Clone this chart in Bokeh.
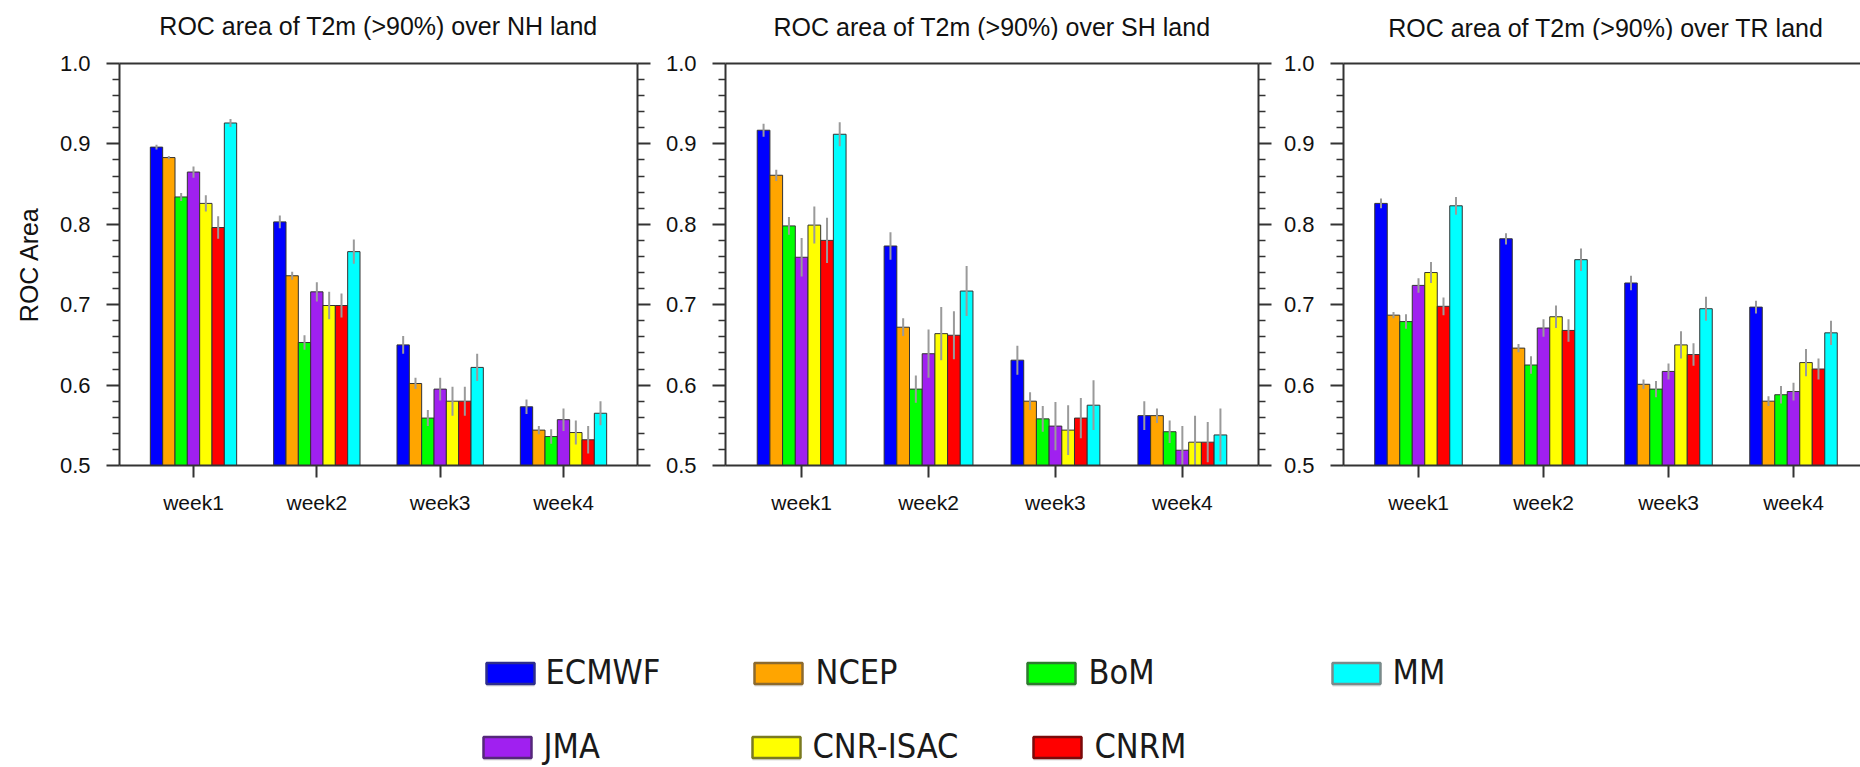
from bokeh.plotting import figure
from bokeh.models import Range1d, FixedTicker, LinearAxis, PrintfTickFormatter
from bokeh.layouts import row, column
from bokeh.embed import file_html
from bokeh.resources import INLINE
from bokeh.core.properties import value

# ---------------- data ----------------
models = ["ECMWF", "NCEP", "BoM", "JMA", "CNR-ISAC", "CNRM", "MM"]
weeks = ["week1", "week2", "week3", "week4"]
week_pos = [1, 2, 3, 4]
y_ticks = [0.5, 0.6, 0.7, 0.8, 0.9, 1.0]
y_minor = [0.52, 0.54, 0.56, 0.58, 0.62, 0.64, 0.66, 0.68, 0.72, 0.74, 0.76, 0.78,
           0.82, 0.84, 0.86, 0.88, 0.92, 0.94, 0.96, 0.98]
titles = ["ROC area of T2m (>90%) over NH land",
          "ROC area of T2m (>90%) over SH land",
          "ROC area of T2m (>90%) over TR land"]

# ROC area per model (rows, order of `models`) for week1..week4
nh_roc = [[0.896, 0.803, 0.650, 0.573],
          [0.883, 0.736, 0.602, 0.544],
          [0.834, 0.653, 0.559, 0.536],
          [0.865, 0.716, 0.595, 0.557],
          [0.826, 0.699, 0.580, 0.541],
          [0.796, 0.699, 0.580, 0.532],
          [0.926, 0.766, 0.622, 0.565]]
nh_err = [[0.003, 0.008, 0.011, 0.009],
          [0.002, 0.005, 0.007, 0.005],
          [0.005, 0.009, 0.010, 0.009],
          [0.007, 0.012, 0.014, 0.014],
          [0.010, 0.017, 0.018, 0.015],
          [0.014, 0.015, 0.018, 0.017],
          [0.005, 0.015, 0.017, 0.015]]

sh_roc = [[0.917, 0.773, 0.631, 0.562],
          [0.861, 0.672, 0.580, 0.562],
          [0.798, 0.595, 0.558, 0.542],
          [0.759, 0.639, 0.549, 0.519],
          [0.799, 0.664, 0.544, 0.529],
          [0.780, 0.662, 0.559, 0.529],
          [0.912, 0.717, 0.575, 0.538]]
sh_err = [[0.008, 0.017, 0.018, 0.018],
          [0.007, 0.011, 0.011, 0.009],
          [0.011, 0.017, 0.016, 0.014],
          [0.024, 0.030, 0.030, 0.030],
          [0.023, 0.033, 0.031, 0.033],
          [0.028, 0.030, 0.025, 0.025],
          [0.015, 0.031, 0.031, 0.033]]

tr_roc = [[0.826, 0.782, 0.727, 0.697],
          [0.687, 0.646, 0.601, 0.580],
          [0.679, 0.625, 0.595, 0.588],
          [0.724, 0.671, 0.617, 0.592],
          [0.740, 0.685, 0.650, 0.628],
          [0.698, 0.668, 0.638, 0.620],
          [0.823, 0.756, 0.695, 0.665]]
tr_err = [[0.006, 0.007, 0.009, 0.008],
          [0.004, 0.005, 0.006, 0.006],
          [0.009, 0.011, 0.010, 0.011],
          [0.009, 0.011, 0.010, 0.011],
          [0.013, 0.014, 0.017, 0.017],
          [0.011, 0.014, 0.014, 0.013],
          [0.011, 0.014, 0.015, 0.015]]

# ---------------- styles / layout ----------------
colors = ["#0000FF", "#FFA500", "#00FF00", "#A020F0", "#FFFF00", "#FF0000", "#00FFFF"]
edge_colors = ["#2E2E8C", "#8C6A2E", "#2E7A2E", "#55287A", "#7A7A20", "#7A0A0A", "#7A8A8A"]
FONT = "Liberation Sans"
LEG_FONT = "DejaVu Sans Condensed, DejaVu Sans"
AX_COLOR = "#333333"
BAR_W = 0.1
X0 = 0.4
TITLE_H = 40
PANEL_H = 490
LEG_H = 767 - TITLE_H - PANEL_H
# (canvas width, border left, border right, border top, border bottom, x_end, title y)
panel_geo = [(657, 119, 20, 19, 65, 4.6, 25),
             (619, 68, 18, 21, 58, 4.6, 26),
             (584, 67, 0, 23, 56, 4.536, 27)]


def style_axis(ax):
    ax.axis_line_color = AX_COLOR
    ax.axis_line_width = 2
    ax.major_tick_line_color = AX_COLOR
    ax.major_tick_line_width = 2
    ax.minor_tick_line_color = AX_COLOR
    ax.minor_tick_line_width = 1.5
    ax.major_tick_in = 0
    ax.minor_tick_in = 0
    ax.major_label_text_font = FONT
    ax.major_label_text_color = "#111111"


def make_panel(roc, err, geo, ylabel, right_axis):
    width, bl, br, bt, bb, x_end, _ = geo
    p = figure(width=width, height=PANEL_H, output_backend="svg", toolbar_location=None,
               x_range=Range1d(X0, x_end), y_range=Range1d(0.5, 1.0),
               min_border_left=bl, min_border_right=br, min_border_top=bt,
               min_border_bottom=bb)
    p.outline_line_color = None
    p.grid.visible = False
    p.background_fill_color = "white"
    p.border_fill_color = "white"

    for i, m in enumerate(models):
        xs = [w + (i - 3) * BAR_W for w in week_pos]
        p.vbar(x=xs, top=roc[i], bottom=0.5, width=BAR_W,
               fill_color=colors[i], line_color="#333333", line_width=1)
        p.segment(x0=xs, x1=xs,
                  y0=[v - e for v, e in zip(roc[i], err[i])],
                  y1=[v + e for v, e in zip(roc[i], err[i])],
                  line_color="#9A9A9A", line_width=2)

    # left axis
    ya = p.yaxis[0]
    ya.ticker = FixedTicker(ticks=y_ticks, minor_ticks=y_minor)
    ya.formatter = PrintfTickFormatter(format="%.1f")
    style_axis(ya)
    ya.major_tick_out = 13
    ya.minor_tick_out = 7
    ya.major_label_standoff = 16
    ya.major_label_text_font_size = "22px"
    if ylabel:
        ya.axis_label = "ROC Area"
        ya.axis_label_text_font = FONT
        ya.axis_label_text_font_size = "25px"
        ya.axis_label_text_font_style = "normal"
        ya.axis_label_text_color = "#111111"
        ya.axis_label_standoff = 14

    # bottom axis
    xa = p.xaxis[0]
    xa.ticker = FixedTicker(ticks=week_pos, minor_ticks=[])
    xa.major_label_overrides = {w: lab for w, lab in zip(week_pos, weeks)}
    style_axis(xa)
    xa.major_tick_out = 12
    xa.minor_tick_out = 0
    xa.major_label_standoff = 13
    xa.major_label_text_font_size = "21px"

    # top border (no ticks)
    ta = LinearAxis(ticker=FixedTicker(ticks=[], minor_ticks=[]))
    style_axis(ta)
    ta.major_tick_out = 0
    ta.minor_tick_out = 0
    ta.major_label_standoff = 0
    p.add_layout(ta, "above")

    # right axis (mirrored ticks, no labels)
    if right_axis:
        ra = LinearAxis(ticker=FixedTicker(ticks=y_ticks, minor_ticks=y_minor))
        style_axis(ra)
        ra.major_tick_out = 13
        ra.minor_tick_out = 7
        ra.major_label_standoff = 0
        ra.major_label_overrides = {t: "" for t in y_ticks}
        p.add_layout(ra, "right")
    return p


p1 = make_panel(nh_roc, nh_err, panel_geo[0], True, True)
p2 = make_panel(sh_roc, sh_err, panel_geo[1], False, True)
p3 = make_panel(tr_roc, tr_err, panel_geo[2], False, False)


def blank_fig(h, y_top, y_bot):
    f = figure(width=1860, height=h, output_backend="svg", toolbar_location=None,
               x_range=Range1d(0, 1860), y_range=Range1d(y_bot, y_top),
               min_border_left=0, min_border_right=0, min_border_top=0, min_border_bottom=0)
    f.axis.visible = False
    f.grid.visible = False
    f.outline_line_color = None
    f.background_fill_color = "white"
    f.border_fill_color = "white"
    return f


# ---------------- titles strip (centred over each panel's full x extent) ----------------
tstrip = blank_fig(TITLE_H, 0, TITLE_H)
offset = 0
t_x, t_y = [], []
for geo in panel_geo:
    width, bl, br, bt, bb, x_end, ty = geo
    fw = width - bl - br
    t_x.append(offset + bl + fw * (2.5 - X0) / (x_end - X0))
    t_y.append(ty)
    offset += width
tstrip.text(x=t_x, y=t_y, text=titles, text_font=value(FONT), text_font_size="25px",
            text_color="#111111", text_align="center", text_baseline="middle")

# ---------------- legend ----------------
y0 = TITLE_H + PANEL_H
leg = blank_fig(LEG_H, y0, 767)

# layout of legend entries (swatch left x, text left x, row)
leg_swatch_x = [486, 754, 1027, 483, 752, 1033, 1332]
leg_text_x = [545, 815, 1088, 543, 812, 1094, 1392]
leg_row = [0, 0, 0, 1, 1, 1, 0]
row_center = [673, 747]
row_text = [671, 745]

for i, m in enumerate(models):
    r = leg_row[i]
    leg.rect(x=[leg_swatch_x[i] + 24], y=[row_center[r] + 2.5], width=48, height=21,
             fill_color="#DDDDDD", line_color=None)
    leg.rect(x=[leg_swatch_x[i] + 24], y=[row_center[r]], width=48, height=21,
             fill_color=colors[i], line_color=edge_colors[i], line_width=2.5)
    leg.text(x=[leg_text_x[i]], y=[row_text[r]], text=[m],
             text_font=value(LEG_FONT), text_font_size="34px", text_color="#1a1a1a",
             text_align="left", text_baseline="middle")

layout = column(tstrip, row(p1, p2, p3), leg)
open("out.html", "w").write(file_html(layout, INLINE))
